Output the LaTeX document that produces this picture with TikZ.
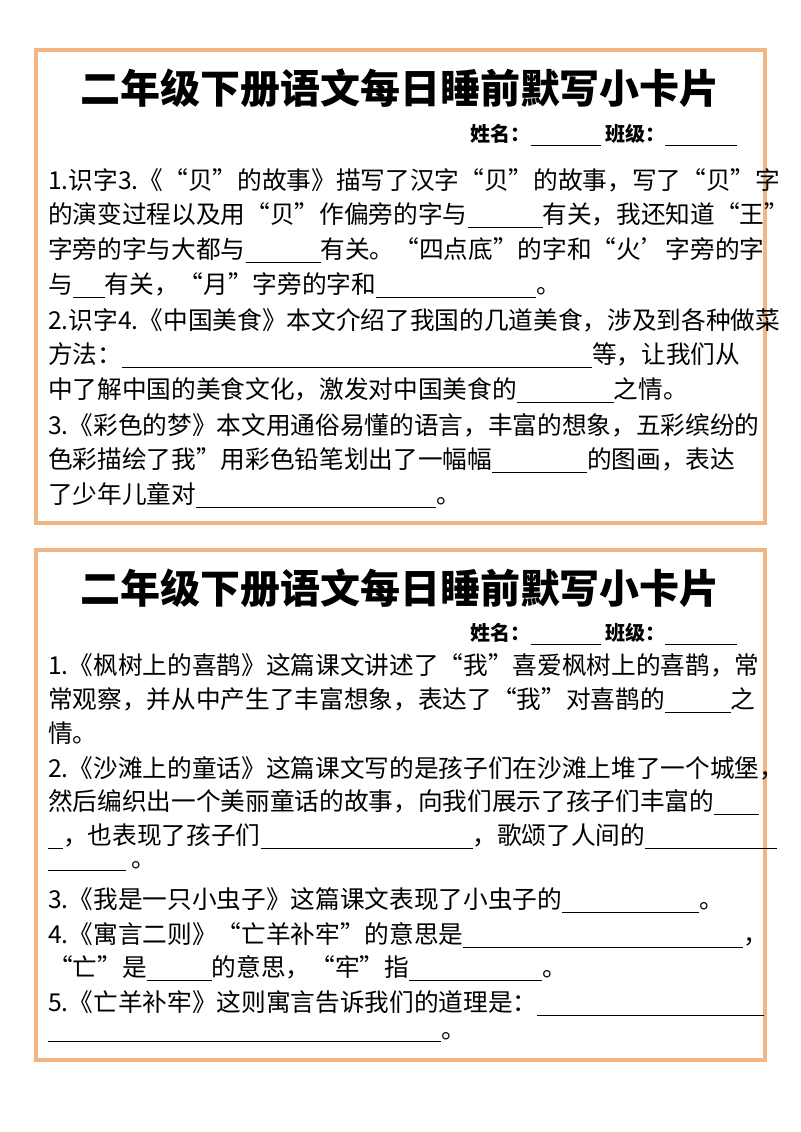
\documentclass[tikz,border=0pt]{standalone}
\usepackage{fontspec}
\setmainfont{Noto Sans CJK SC}
\definecolor{cardor}{RGB}{242,182,132}
\newcommand{\bl}[1]{\rule[-3pt]{\dimexpr #1pt*3/4\relax}{0.6pt}}
\begin{document}
\begin{tikzpicture}[x=0.75pt,y=-0.75pt,
  card/.style={draw=cardor,line width=2.4pt},
  ttl/.style={font=\fontsize{30}{32}\selectfont\bfseries},
  nm/.style={anchor=east,font=\fontsize{15}{16}\selectfont\bfseries},
  ln/.style={anchor=west,inner sep=0pt,font=\fontsize{18.5}{20}\selectfont}]
\useasboundingbox (0,0) rectangle (800,1132);
\fill[white] (0,0) rectangle (800,1132);
\draw[card] (36,50) rectangle (765,523);
\draw[card] (36,550) rectangle (765,1060);
% card 1
\node[ttl] (t1) at (400,88) {二年级下册语文每日睡前默写小卡片};
\node[nm] (n1) at (742,135) {姓名：\bl{70}\ 班级：\bl{72}};
\node[ln] (a1) at (48,180) {1.识字3.《“贝”的故事》描写了汉字“贝”的故事，写了“贝”字};
\node[ln] (a2) at (48,215) {的演变过程以及用“贝”作偏旁的字与\bl{75}有关，我还知道“王”};
\node[ln] (a3) at (48,250) {字旁的字与大都与\bl{75}有关。“四点底”的字和“火’字旁的字};
\node[ln] (a4) at (48,285) {与\bl{32}有关，“月”字旁的字和\bl{160}。};
\node[ln] (a5) at (48,320) {2.识字4.《中国美食》本文介绍了我国的几道美食，涉及到各种做菜};
\node[ln] (a6) at (48,355) {方法：\bl{470}等，让我们从};
\node[ln] (a7) at (48,390) {中了解中国的美食文化，激发对中国美食的\bl{97}之情。};
\node[ln] (a8) at (48,425) {3.《彩色的梦》本文用通俗易懂的语言，丰富的想象，五彩缤纷的};
\node[ln] (a9) at (48,460) {色彩描绘了我”用彩色铅笔划出了一幅幅\bl{95}的图画，表达};
\node[ln] (a10) at (48,495) {了少年儿童对\bl{240}。};
% card 2
\node[ttl] (t2) at (400,588) {二年级下册语文每日睡前默写小卡片};
\node[nm] (n2) at (742,634) {姓名：\bl{70}\ 班级：\bl{72}};
\node[ln] (b1) at (48,665) {1.《枫树上的喜鹊》这篇课文讲述了“我”喜爱枫树上的喜鹊，常};
\node[ln] (b2) at (48,700) {常观察，并从中产生了丰富想象，表达了“我”对喜鹊的\bl{66}之};
\node[ln] (b3) at (48,733) {情。};
\node[ln] (b4) at (48,768) {2.《沙滩上的童话》这篇课文写的是孩子们在沙滩上堆了一个城堡，};
\node[ln] (b5) at (48,802) {然后编织出一个美丽童话的故事，向我们展示了孩子们丰富的\bl{45}};
\node[ln] (b6) at (48,836) {\bl{15}，也表现了孩子们\bl{212}，歌颂了人间的\bl{132}};
\node[ln] (b7) at (48,866) {\bl{78}\ 。};
\node[ln] (b8) at (48,900) {3.《我是一只小虫子》这篇课文表现了小虫子的\bl{137}。};
\node[ln] (b9) at (48,935) {4.《寓言二则》“亡羊补牢”的意思是\bl{280}，};
\node[ln] (b10) at (48,968) {“亡”是\bl{65}的意思，“牢”指\bl{133}。};
\node[ln] (b11) at (48,1003) {5.《亡羊补牢》这则寓言告诉我们的道理是：\bl{227}};
\node[ln] (b12) at (48,1037) {\bl{393}。};
\end{tikzpicture}
\end{document}
